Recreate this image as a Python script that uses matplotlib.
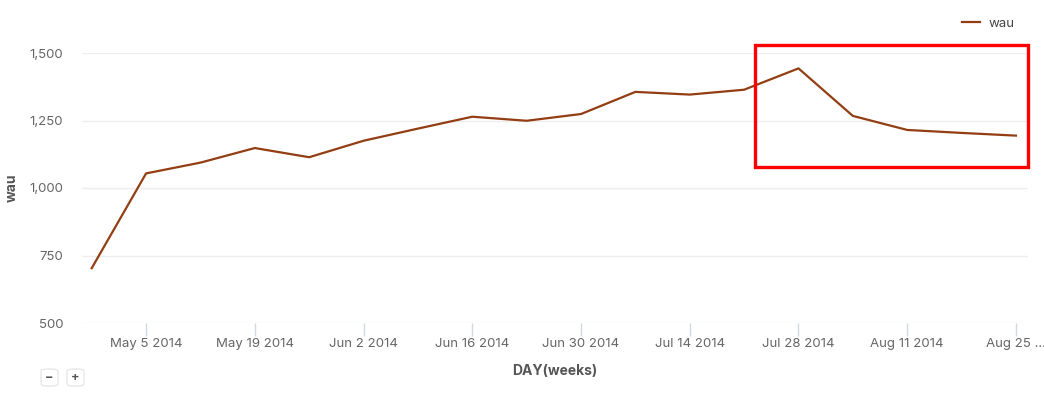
import numpy as np
import matplotlib.pyplot as plt
import matplotlib.dates as mdates
from matplotlib.patches import Rectangle, FancyBboxPatch
from datetime import datetime, timedelta

plt.rcParams['font.family'] = ['Inter', 'DejaVu Sans']

# weekly active users, one point per week starting Apr 28 2014
weeks = [datetime(2014, 4, 28) + timedelta(weeks=i) for i in range(18)]
wau = [703, 1054, 1094, 1148, 1114, 1175, 1220, 1264, 1249, 1274,
       1356, 1346, 1364, 1443, 1267, 1215, 1204, 1194]

tick_dates = [datetime(2014, 5, 5) + timedelta(weeks=2 * i) for i in range(9)]
tick_labels = [d.strftime('%b ') + str(d.day) + ' 2014' for d in tick_dates]
tick_labels[-1] = 'Aug 25 ...'
y_ticks = [500, 750, 1000, 1250, 1500]

fig = plt.figure(figsize=(10.44, 3.93), dpi=100)
W, H = 1044, 393
ax = fig.add_axes([82 / W, 1 - 323 / H, (1028 - 82) / W, (323 - 53) / H])

ax.plot(weeks, wau, color='#933d12', lw=1.6, label='wau', clip_on=False)

ax.set_ylim(500, 1500)
ax.set_xlim(mdates.date2num(weeks[0]) - 1.25, mdates.date2num(weeks[-1]) + 1.55)
ax.set_yticks(y_ticks)
ax.set_yticklabels([f'{v:,}' for v in y_ticks])
ax.set_xticks(tick_dates)
ax.set_xticklabels(tick_labels)

for s in ax.spines.values():
    s.set_visible(False)
ax.grid(axis='y', color='#eeeeee', lw=1)
ax.set_axisbelow(True)
ax.tick_params(axis='y', length=0, pad=13.5, labelsize=9.5, labelcolor='#666666')
ax.tick_params(axis='x', length=9, width=1, color='#d3d9e3', pad=1.5,
               labelsize=9.5, labelcolor='#666666')

ax.set_ylabel('wau', fontsize=10, fontweight='bold', color='#555555')
ax.yaxis.set_label_coords((12 - 82) / (1028 - 82), 0.5)
ax.set_xlabel('DAY(weeks)', fontsize=10, fontweight='bold', color='#555555')
ax.xaxis.set_label_coords(0.5, -(371 - 323) / (323 - 53))
ax.xaxis.label.set_va('center')
ax.yaxis.label.set_va('center')

leg = ax.legend(loc='upper right', bbox_to_anchor=(1026 / W, 1 - 6 / H),
                bbox_transform=fig.transFigure, frameon=False, fontsize=9.5,
                handlelength=1.4, handletextpad=0.6, labelcolor='#444444')

# red highlight box
fig.patches.append(Rectangle((755 / W, 1 - 167 / H), (1028 - 755) / W, (167 - 45) / H,
                             transform=fig.transFigure, fill=False,
                             edgecolor='#ff0000', lw=2.4))

# zoom buttons
for x0, sym in [(41, '\u2212'), (67, '+')]:
    fig.patches.append(FancyBboxPatch((x0 / W, 1 - 386 / H), 17 / W, 17 / H,
                                      boxstyle='round,pad=0,rounding_size=0.006',
                                      transform=fig.transFigure, facecolor='white',
                                      edgecolor='#e2e2e2', lw=0.8))
    fig.text((x0 + 8.5) / W, 1 - 377.5 / H, sym, ha='center', va='center',
             fontsize=9, fontweight='bold', color='#555555')

fig.savefig('out.png', dpi=100)
